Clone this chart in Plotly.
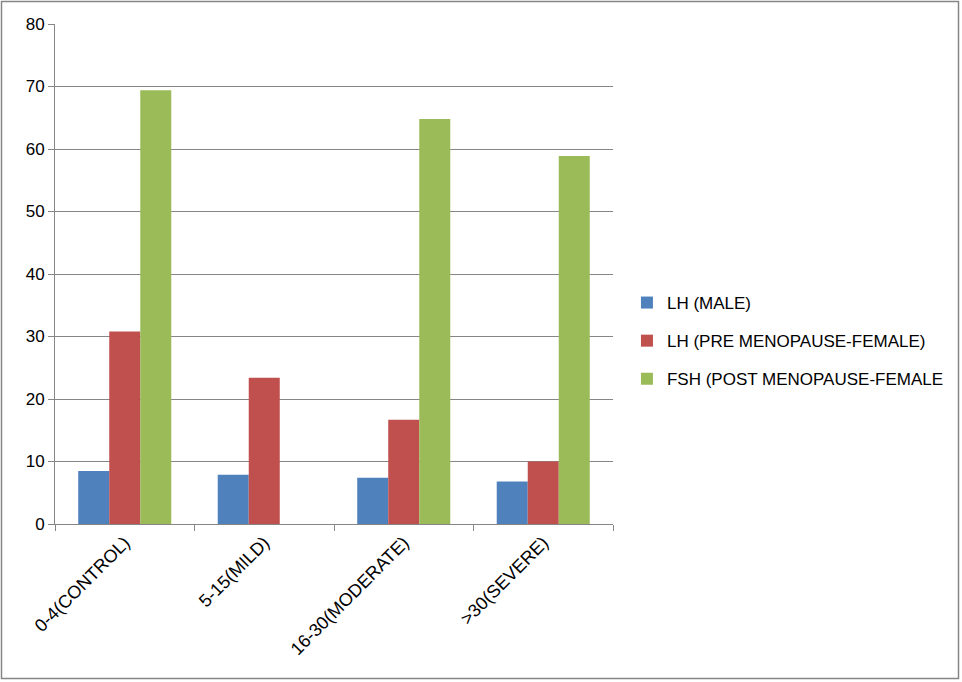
import plotly.graph_objects as go

categories = ["0-4(CONTROL)", "5-15(MILD)", "16-30(MODERATE)", ">30(SEVERE)"]
lh_male = [8.5, 7.9, 7.4, 6.8]
lh_pre_female = [30.8, 23.4, 16.7, 10.0]
fsh_post_female = [69.4, None, 64.8, 58.9]
series_names = ["LH (MALE)", "LH (PRE MENOPAUSE-FEMALE)", "FSH (POST MENOPAUSE-FEMALE"]
colors = ["#4F81BD", "#C0504D", "#9BBB59"]
y_ticks = [0, 10, 20, 30, 40, 50, 60, 70, 80]

W, H = 962, 682
L, R, T, B = 55, 349, 24, 158

fig = go.Figure()
for i, (name, vals) in enumerate(zip(series_names, [lh_male, lh_pre_female, fsh_post_female])):
    fig.add_trace(go.Bar(x=categories, y=vals, name=name, marker_color=colors[i],
                         marker_line_width=0, legendgroup=str(i)))

pw = W - L - R
ph = H - T - B
fig.add_shape(type="rect", xref="paper", yref="paper",
              x0=(1.5 - L) / pw, x1=(W - 3.5 - L) / pw,
              y0=-(H - 3.5 - T - ph) / ph, y1=(T - 1.5) / ph + 1,
              line=dict(color="#868686", width=1.5))

fig.update_layout(
    width=W, height=H,
    margin=dict(l=L, r=R, t=T, b=B),
    paper_bgcolor="white", plot_bgcolor="white",
    barmode="group", bargap=0.333, bargroupgap=0,
    font=dict(family="Liberation Sans, Arial, sans-serif", size=16, color="black"),
    showlegend=True,
    legend=dict(x=1.025, y=0.366, xanchor="left", yanchor="middle",
                font=dict(size=17), tracegroupgap=13, itemwidth=30,
                bgcolor="rgba(0,0,0,0)"),
    xaxis=dict(showline=True, linecolor="#868686", linewidth=1,
               ticks="outside", tickson="boundaries", ticklen=6, tickcolor="#868686",
               tickangle=-45, tickfont=dict(size=18), showgrid=False),
    yaxis=dict(range=[0, 80], tickvals=y_ticks, showline=True, linecolor="#868686",
               linewidth=1, ticks="outside", ticklen=6, tickcolor="#868686",
               showgrid=True, gridcolor="#868686", gridwidth=1,
               tickfont=dict(size=17), zeroline=False),
)

fig.write_html("out.html", config={"displayModeBar": False},
               post_script="document.body.style.margin='0';document.body.style.overflow='hidden';")
